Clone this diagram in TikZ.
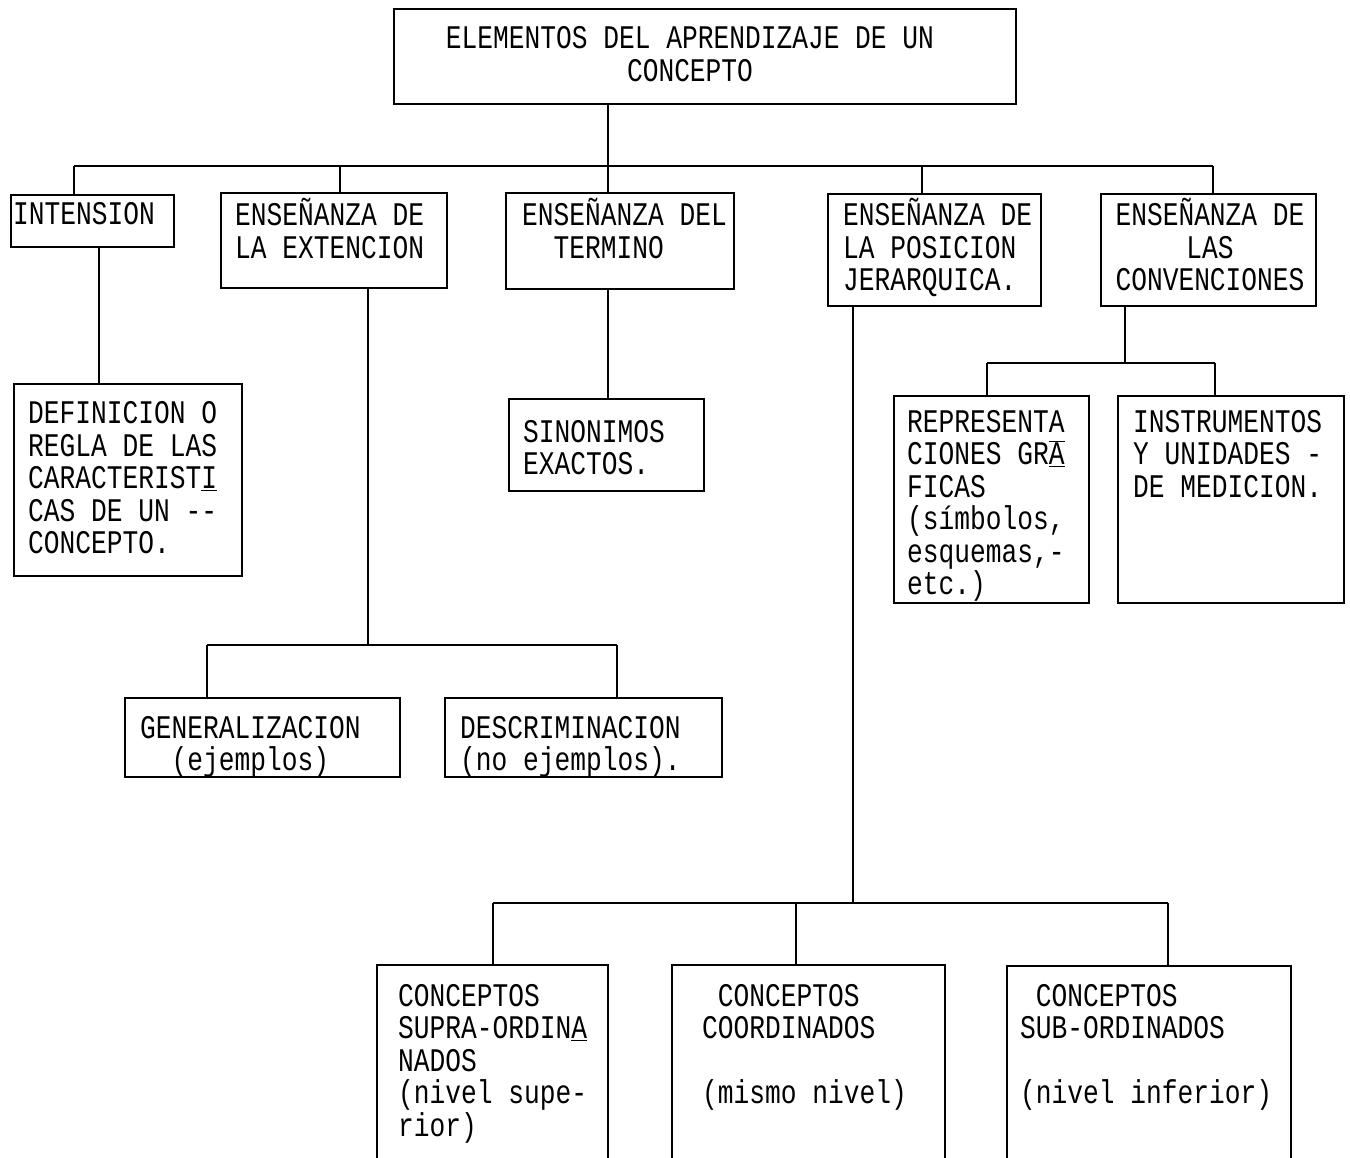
\documentclass[tikz,border=0pt]{standalone}
\usepackage{fontspec}
\newfontfamily\tw[FakeStretch=0.795]{Liberation Mono}
\newdimen\cwd \cwd=15.74pt
\newcommand\sk[1]{\hspace*{#1\cwd}}
\newcommand\ovun[1]{$\overline{\underline{\mbox{#1}}}$}
\newcommand\mlines[1]{\vtop{\baselineskip=32.5pt\lineskiplimit=-200pt\halign{##\hfil\cr#1\crcr}}}
\newcommand\mlinesc[1]{\vtop{\baselineskip=32.5pt\lineskiplimit=-200pt\halign{\hfil##\hfil\cr#1\crcr}}}
\tikzset{
  box/.style={draw, line width=2.4pt, anchor=north west, inner sep=0pt},
  txt/.style={anchor=base west, inner sep=0pt, font=\tw\fontsize{33}{32.5}\selectfont},
  ctxt/.style={anchor=base, inner sep=0pt, font=\tw\fontsize{33}{32.5}\selectfont},
  conn/.style={line width=2.5pt}
}
\begin{document}
\begin{tikzpicture}[x=1pt,y=-1pt]
\useasboundingbox[fill=white] (0,0) rectangle (1350,1158);
\clip (0,0) rectangle (1350,1158);
% boxes
\node[box, minimum width=622pt, minimum height=95pt] (top) at (393,8) {};
\node[box, minimum width=163pt, minimum height=52pt] (intension) at (10,194) {};
\node[box, minimum width=226pt, minimum height=95pt] (ext) at (220,192) {};
\node[box, minimum width=228pt, minimum height=96pt] (term) at (505,192) {};
\node[box, minimum width=213pt, minimum height=112pt] (jer) at (827,193) {};
\node[box, minimum width=215pt, minimum height=112pt] (conv) at (1100,193) {};
\node[box, minimum width=228pt, minimum height=192pt] (def) at (13,383) {};
\node[box, minimum width=195pt, minimum height=92pt] (sin) at (508,398) {};
\node[box, minimum width=195pt, minimum height=207pt] (rep) at (893,395) {};
\node[box, minimum width=226pt, minimum height=207pt] (inst) at (1117,395) {};
\node[box, minimum width=275pt, minimum height=79pt] (gen) at (124,697) {};
\node[box, minimum width=277pt, minimum height=79pt] (desc) at (444,697) {};
\node[box, minimum width=231pt, minimum height=230pt] (supra) at (376,964) {};
\node[box, minimum width=273pt, minimum height=230pt] (coord) at (671,964) {};
\node[box, minimum width=284pt, minimum height=230pt] (sub) at (1006,965) {};
% texts
\node[ctxt] (top-t) at (690,49) {\mlinesc{ELEMENTOS DEL APRENDIZAJE DE UN\cr CONCEPTO}};
\node[txt] (intension-t) at (13,225) {INTENSION};
\node[txt] (ext-t) at (235,226) {\mlines{ENSEÑANZA DE\cr LA EXTENCION}};
\node[txt] (term-t) at (522,226) {\mlines{ENSEÑANZA DEL\cr\sk{2}TERMINO}};
\node[txt] (jer-t) at (843,226) {\mlines{ENSEÑANZA DE\cr LA POSICION\cr JERARQUICA.}};
\node[ctxt] (conv-t) at (1210,226) {\mlinesc{ENSEÑANZA DE\cr LAS\cr CONVENCIONES}};
\node[txt] (def-t) at (28,424) {\mlines{DEFINICION O\cr REGLA DE LAS\cr CARACTERIST\underline{I}\cr CAS DE UN -{}-\cr CONCEPTO.}};
\node[txt] (sin-t) at (523,442) {\mlines{SINONIMOS\cr EXACTOS.}};
\node[txt] (rep-t) at (907,432) {\mlines{REPRESENTA\cr CIONES GR\ovun{A}\cr FICAS\cr (símbolos,\cr esquemas,-\cr etc.)}};
\node[txt] (inst-t) at (1133,432) {\mlines{INSTRUMENTOS\cr Y UNIDADES -\cr DE MEDICION.}};
\node[txt] (gen-t) at (140,738) {\mlines{GENERALIZACION\cr\sk{2}(ejemplos)}};
\node[txt] (desc-t) at (460,738) {\mlines{DESCRIMINACION\cr (no ejemplos).}};
\node[txt] (supra-t) at (398,1006) {\mlines{CONCEPTOS\cr SUPRA-ORDIN\underline{A}\cr NADOS\cr (nivel supe-\cr rior)}};
\node[txt] (coord-t) at (702,1006) {\mlines{\sk{1}CONCEPTOS\cr COORDINADOS\cr\cr (mismo nivel)}};
\node[txt] (sub-t) at (1020,1006) {\mlines{\sk{1}CONCEPTOS\cr SUB-ORDINADOS\cr\cr (nivel inferior)}};
% connector coordinates
\coordinate (j0) at (608,166);
\coordinate (jA) at (74,166);
\coordinate (jB) at (340,166);
\coordinate (jD) at (922,166);
\coordinate (jE) at (1213,166);
\coordinate (kA) at (99,0);
\coordinate (kB) at (368,645);
\coordinate (kB1) at (207,645);
\coordinate (kB2) at (617,645);
\coordinate (kD) at (853,903);
\coordinate (kD1) at (493,903);
\coordinate (kD2) at (796,903);
\coordinate (kD3) at (1168,903);
\coordinate (kE) at (1125,363);
\coordinate (kE1) at (987,363);
\coordinate (kE2) at (1215,363);
% connectors
\draw[conn] (top.south -| j0) -- (j0);
\draw[conn] (jA) -- (jE);
\draw[conn] (jA) -- (jA |- intension.north);
\draw[conn] (jB) -- (jB |- ext.north);
\draw[conn] (j0) -- (j0 |- term.north);
\draw[conn] (jD) -- (jD |- jer.north);
\draw[conn] (jE) -- (jE |- conv.north);
\draw[conn] (kA |- intension.south) -- (kA |- def.north);
\draw[conn] (kB |- ext.south) -- (kB);
\draw[conn] (kB1) -- (kB2);
\draw[conn] (kB1) -- (kB1 |- gen.north);
\draw[conn] (kB2) -- (kB2 |- desc.north);
\draw[conn] (j0 |- term.south) -- (j0 |- sin.north);
\draw[conn] (kD |- jer.south) -- (kD);
\draw[conn] (kD1) -- (kD3);
\draw[conn] (kD1) -- (kD1 |- supra.north);
\draw[conn] (kD2) -- (kD2 |- coord.north);
\draw[conn] (kD3) -- (kD3 |- sub.north);
\draw[conn] (kE |- conv.south) -- (kE);
\draw[conn] (kE1) -- (kE2);
\draw[conn] (kE1) -- (kE1 |- rep.north);
\draw[conn] (kE2) -- (kE2 |- inst.north);
\end{tikzpicture}
\end{document}
